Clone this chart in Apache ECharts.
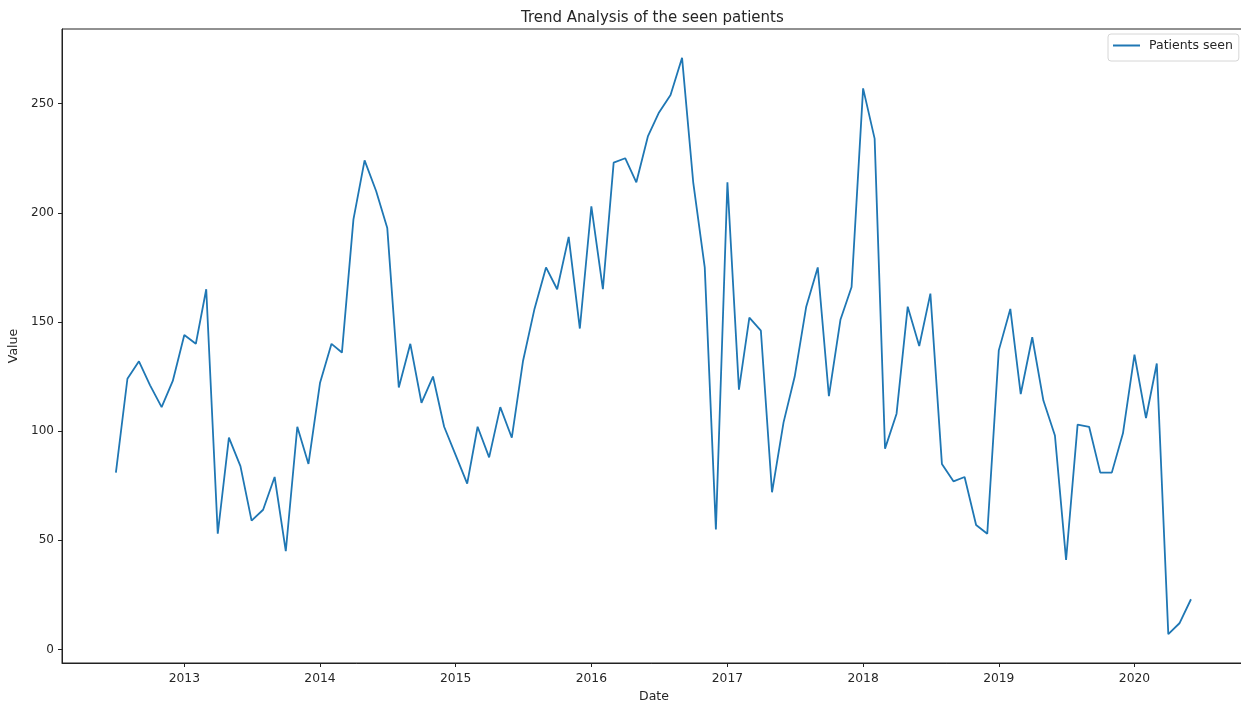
<!DOCTYPE html>
<html>
<head>
<meta charset="utf-8">
<script src="https://cdn.jsdelivr.net/npm/echarts@6/dist/echarts.min.js"></script>
<style>
html,body{margin:0;padding:0;background:#fff;overflow:hidden;}
#chart{width:1241px;height:705px;}
</style>
</head>
<body>
<div id="chart"></div>
<script>
const months = [
  '2012-07-01','2012-08-01','2012-09-01','2012-10-01','2012-11-01','2012-12-01',
  '2013-01-01','2013-02-01','2013-03-01','2013-04-01','2013-05-01','2013-06-01',
  '2013-07-01','2013-08-01','2013-09-01','2013-10-01','2013-11-01','2013-12-01',
  '2014-01-01','2014-02-01','2014-03-01','2014-04-01','2014-05-01','2014-06-01',
  '2014-07-01','2014-08-01','2014-09-01','2014-10-01','2014-11-01','2014-12-01',
  '2015-01-01','2015-02-01','2015-03-01','2015-04-01','2015-05-01','2015-06-01',
  '2015-07-01','2015-08-01','2015-09-01','2015-10-01','2015-11-01','2015-12-01',
  '2016-01-01','2016-02-01','2016-03-01','2016-04-01','2016-05-01','2016-06-01',
  '2016-07-01','2016-08-01','2016-09-01','2016-10-01','2016-11-01','2016-12-01',
  '2017-01-01','2017-02-01','2017-03-01','2017-04-01','2017-05-01','2017-06-01',
  '2017-07-01','2017-08-01','2017-09-01','2017-10-01','2017-11-01','2017-12-01',
  '2018-01-01','2018-02-01','2018-03-01','2018-04-01','2018-05-01','2018-06-01',
  '2018-07-01','2018-08-01','2018-09-01','2018-10-01','2018-11-01','2018-12-01',
  '2019-01-01','2019-02-01','2019-03-01','2019-04-01','2019-05-01','2019-06-01',
  '2019-07-01','2019-08-01','2019-09-01','2019-10-01','2019-11-01','2019-12-01',
  '2020-01-01','2020-02-01','2020-03-01','2020-04-01','2020-05-01','2020-06-01'
];
const patientsSeen = [
  81,124,132,121,111,123,
  144,140,165,53,97,84,
  59,64,79,45,102,85,
  122,140,136,197,224,210,
  193,120,140,113,125,102,
  89,76,102,88,111,97,
  132,156,175,165,189,147,
  203,165,223,225,214,235,
  246,254,271,214,175,55,
  214,119,152,146,72,104,
  125,157,175,116,151,166,
  257,234,92,108,157,139,
  163,85,77,79,57,53,
  137,156,117,143,114,98,
  41,103,102,81,81,99,
  135,106,131,7,12,23
];
const xTickLabels = ['2013','2014','2015','2016','2017','2018','2019','2020'];
const yTickLabels = [0,50,100,150,200,250];
const seriesName = 'Patients seen';
const titleText = 'Trend Analysis of the seen patients';
const xRange = ['2012-02-07', '2020-10-27'];
const yRange = [-6.2, 284.2];

const toMs = s => Date.parse(s + 'T00:00:00Z');
const xTickValues = xTickLabels.map(y => toMs(y + '-01-01'));
const seriesData = months.map((m, i) => [toMs(m), patientsSeen[i]]);
const txt = '#262626';
const axisCol = '#222222';
const font = 'DejaVu Sans';

const chart = echarts.init(document.getElementById('chart'), null, {renderer: 'canvas'});
chart.setOption({
  animation: false,
  backgroundColor: '#ffffff',
  textStyle: {fontFamily: font, color: txt},
  title: {
    text: titleText,
    left: 516, top: 6,
    textStyle: {fontFamily: font, fontSize: 15, fontWeight: 'normal', color: txt}
  },
  legend: {
    data: [seriesName],
    left: 1108, top: 34,
    orient: 'vertical',
    icon: 'rect', itemWidth: 27, itemHeight: 2, itemGap: 0,
    padding: [5, 6, 9, 5],
    borderColor: '#d6d6d6', borderWidth: 1, borderRadius: 3,
    backgroundColor: '#ffffff',
    textStyle: {fontFamily: font, fontSize: 12.5, color: txt, padding: [0, 0, 0, 4]}
  },
  grid: {
    left: 62, top: 29, width: 1184, height: 634,
    show: true, borderColor: axisCol, borderWidth: 1, backgroundColor: 'transparent',
    containLabel: false,
    outerBoundsMode: 'none'
  },
  xAxis: {
    type: 'value',
    min: toMs(xRange[0]), max: toMs(xRange[1]),
    name: 'Date', nameLocation: 'middle', nameGap: 26,
    nameTextStyle: {fontFamily: font, fontSize: 12.5, color: txt},
    axisLine: {show: true, onZero: false, lineStyle: {color: axisCol, width: 1}},
    axisTick: {show: true, length: 4, lineStyle: {color: axisCol}, customValues: xTickValues},
    axisLabel: {
      show: true, margin: 10, fontFamily: font, fontSize: 12.3, color: txt,
      customValues: xTickValues,
      formatter: v => String(new Date(v).getUTCFullYear())
    },
    splitLine: {show: false}
  },
  yAxis: {
    type: 'value',
    min: yRange[0], max: yRange[1],
    name: 'Value', nameLocation: 'middle', nameGap: 33, nameRotate: 90,
    nameTextStyle: {fontFamily: font, fontSize: 12.5, color: txt},
    axisLine: {show: true, onZero: false, lineStyle: {color: axisCol, width: 1}},
    axisTick: {show: true, length: 4, lineStyle: {color: axisCol}, customValues: yTickLabels},
    axisLabel: {
      show: true, margin: 8, fontFamily: font, fontSize: 12, color: txt,
      customValues: yTickLabels,
      formatter: v => String(v)
    },
    splitLine: {show: false}
  },
  series: [{
    name: seriesName,
    type: 'line',
    data: seriesData,
    showSymbol: false,
    symbol: 'none',
    lineStyle: {color: '#1f77b4', width: 1.8},
    itemStyle: {color: '#1f77b4'}
  }]
});
</script>
</body>
</html>
